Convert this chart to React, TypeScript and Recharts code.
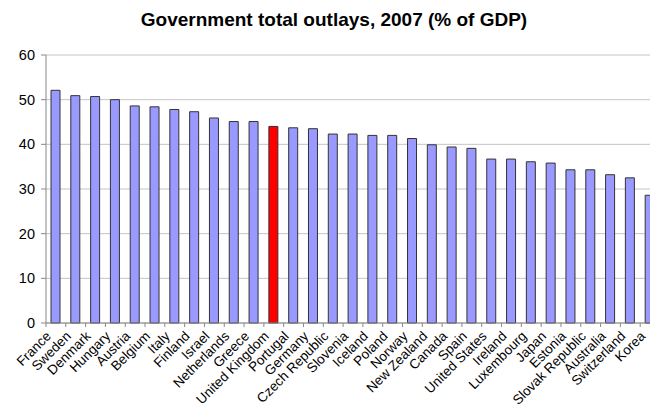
import * as React from 'react';
import { Bar, BarChart, CartesianGrid, Cell, XAxis, YAxis } from 'recharts';

const countries = [
  'France', 'Sweden', 'Denmark', 'Hungary', 'Austria', 'Belgium', 'Italy', 'Finland',
  'Israel', 'Netherlands', 'Greece', 'United Kingdom', 'Portugal', 'Germany',
  'Czech Republic', 'Slovenia', 'Iceland', 'Poland', 'Norway', 'New Zealand', 'Canada',
  'Spain', 'United States', 'Ireland', 'Luxembourg', 'Japan', 'Estonia',
  'Slovak Republic', 'Australia', 'Switzerland', 'Korea',
];

const outlays = [
  52.1, 50.9, 50.7, 50.0, 48.6, 48.4, 47.8, 47.3, 45.9, 45.1, 45.1, 44.0, 43.7, 43.5,
  42.3, 42.3, 42.0, 42.0, 41.3, 39.9, 39.4, 39.1, 36.7, 36.7, 36.1, 35.8, 34.3, 34.3,
  33.2, 32.5, 28.6,
];

const highlightIndex = 11;
const yTicks = [0, 10, 20, 30, 40, 50, 60];

const data = countries.map((name, i) => ({ name, value: outlays[i] }));

const FONT = 'Arial, "Liberation Sans", sans-serif';
const CHART_W = 660;
const CHART_H = 418;
const PLOT_LEFT = 46;
const band = (CHART_W - PLOT_LEFT) / countries.length;

function CountryTick({ x, y, payload }: any) {
  const tx = x - 4;
  const ty = y + 14;
  return (
    <g>
      <line x1={x - band / 2} y1={y} x2={x - band / 2} y2={y + 4} stroke="#888" />
      <text
        x={tx}
        y={ty}
        transform={`rotate(-45, ${tx}, ${ty})`}
        textAnchor="end"
        fontSize={13.5}
        fontFamily={FONT}
        fill="#000"
      >
        {payload.value}
      </text>
    </g>
  );
}

export default function App() {
  return (
    <div
      style={{
        position: 'absolute',
        left: 0,
        top: 0,
        width: 650,
        height: 418,
        overflow: 'hidden',
        background: '#fff',
        fontFamily: FONT,
      }}
    >
      <div
        style={{
          position: 'absolute',
          top: 9,
          left: 0,
          width: 668,
          textAlign: 'center',
          fontSize: 19,
          fontWeight: 'bold',
          color: '#000',
        }}
      >
        Government total outlays, 2007 (% of GDP)
      </div>
      <BarChart
        width={CHART_W}
        height={CHART_H}
        data={data}
        margin={{ top: 55, right: 0, left: 0, bottom: 0 }}
      >
        <CartesianGrid vertical={false} stroke="#c4c4c4" />
        <XAxis
          dataKey="name"
          interval={0}
          height={95}
          tickLine={false}
          tickSize={0}
          tickMargin={0}
          axisLine={{ stroke: '#888' }}
          tick={<CountryTick />}
        />
        <YAxis
          width={PLOT_LEFT}
          domain={[0, 60]}
          ticks={yTicks}
          tickSize={5}
          tickMargin={6}
          tickLine={{ stroke: '#888' }}
          axisLine={{ stroke: '#888' }}
          tick={{ fontSize: 14.5, fill: '#000', fontFamily: FONT }}
        />
        <Bar
          dataKey="value"
          barSize={9}
          stroke="#333"
          strokeWidth={1}
          isAnimationActive={false}
        >
          {data.map((d, i) => (
            <Cell key={d.name} fill={i === highlightIndex ? '#ff0000' : '#9999ff'} />
          ))}
        </Bar>
      </BarChart>
    </div>
  );
}
